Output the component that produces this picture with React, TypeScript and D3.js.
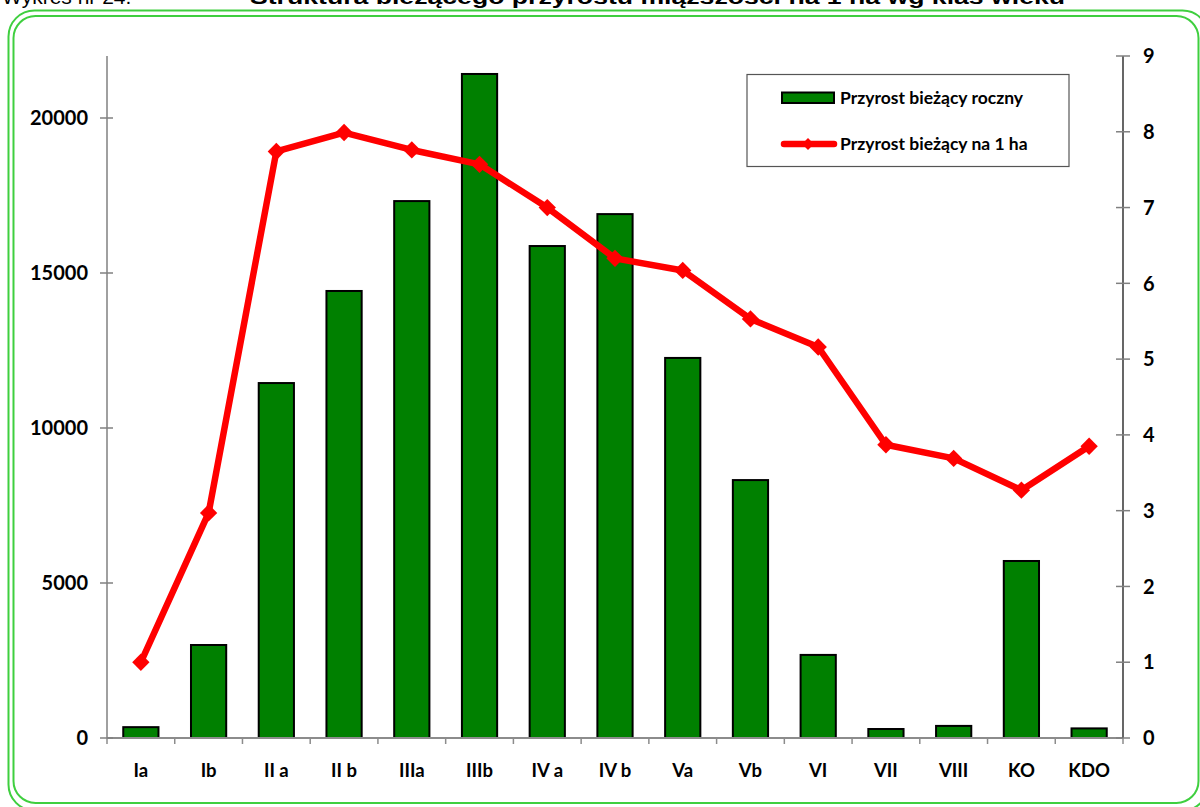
import React from "react";
import * as d3 from "d3";

const categories = ["Ia", "Ib", "II a", "II b", "IIIa", "IIIb", "IV a", "IV b", "Va", "Vb", "VI", "VII", "VIII", "KO", "KDO"];
const annualGrowth = [350, 3000, 11450, 14420, 17320, 21420, 15870, 16900, 12260, 8320, 2680, 290, 390, 5710, 310];
const growthPerHa = [1.0, 2.97, 7.74, 7.99, 7.76, 7.57, 7.0, 6.33, 6.17, 5.53, 5.16, 3.87, 3.69, 3.27, 3.85];
const leftTicks = [0, 5000, 10000, 15000, 20000];
const rightTicks = [0, 1, 2, 3, 4, 5, 6, 7, 8, 9];
const seriesNames = ["Przyrost bieżący roczny", "Przyrost bieżący na 1 ha"];

const W = 1200, H = 807;
const L = 107, R = 1123, T = 56, B = 738;
const font = "Lato, 'Open Sans', Arial, sans-serif";

export default function App() {
  const x = d3.scaleBand<string>().domain(categories).range([L, R]).paddingInner(0.48).paddingOuter(0.24);
  const band = (R - L) / categories.length;
  const yL = d3.scaleLinear().domain([0, 22000]).range([B, T]);
  const yR = d3.scaleLinear().domain([0, 9]).range([B, T]);
  const cx = (c: string) => (x(c) as number) + x.bandwidth() / 2;
  const line = d3.line<number>().x((_, i) => cx(categories[i])).y((d) => yR(d));
  const diamond = d3.symbol().type(d3.symbolSquare).size(150)() as string;
  const green = "#3fcf3f";

  return (
    <svg width={W} height={H} style={{ position: "absolute", left: 0, top: 0, background: "#fff" }}>
      <rect x={0} y={0} width={W} height={H} fill="#fff" />
      <text x={2} y={4} fontFamily="'Liberation Sans', Arial, sans-serif" fontSize={21} fill="#000">Wykres nr 24.</text>
      <text x={250} y={4} fontFamily="'Liberation Sans', Arial, sans-serif" fontSize={21} fontWeight="bold" fill="#000" textLength={815} lengthAdjust="spacingAndGlyphs">Struktura bieżącego przyrostu miąższości na 1 ha wg klas wieku</text>
      <rect x={8.5} y={10.5} width={1200} height={800} rx={26} fill="none" stroke={green} strokeWidth={2} />
      <rect x={13.5} y={16} width={1185} height={787} rx={22} fill="none" stroke={green} strokeWidth={2} />

      {/* bars */}
      {annualGrowth.map((v, i) => (
        <rect key={i} x={x(categories[i])} y={yL(v)} width={x.bandwidth()} height={B - yL(v)} fill="#008000" stroke="#000" strokeWidth={2} />
      ))}

      {/* x axis */}
      <line x1={L} x2={R} y1={B} y2={B} stroke="#8c8c8c" strokeWidth={2} />
      {d3.range(categories.length + 1).map((i) => (
        <line key={i} x1={L + i * band} x2={L + i * band} y1={B} y2={B + 6} stroke="#8c8c8c" strokeWidth={1.5} />
      ))}
      {categories.map((c) => (
        <text key={c} x={cx(c)} y={777} textAnchor="middle" fontFamily={font} fontWeight="bold" fontSize={18.5} fill="#000">{c}</text>
      ))}

      {/* left axis */}
      <line x1={L} x2={L} y1={T} y2={B} stroke="#808080" strokeWidth={1.5} />
      {leftTicks.map((t) => (
        <g key={t}>
          <line x1={L - 7} x2={L + 6} y1={yL(t)} y2={yL(t)} stroke="#808080" strokeWidth={1.5} />
          <text x={88} y={yL(t)} dy="0.36em" textAnchor="end" fontFamily={font} fontWeight="bold" fontSize={20} fill="#000">{t}</text>
        </g>
      ))}

      {/* right axis */}
      <line x1={R} x2={R} y1={T} y2={B} stroke="#000" strokeWidth={1.2} />
      {rightTicks.map((t) => (
        <g key={t}>
          <line x1={R - 7} x2={R + 7} y1={yR(t)} y2={yR(t)} stroke="#808080" strokeWidth={1.5} />
          <text x={1143} y={yR(t)} dy="0.36em" textAnchor="start" fontFamily={font} fontWeight="bold" fontSize={20} fill="#000">{t}</text>
        </g>
      ))}

      {/* line series */}
      <path d={line(growthPerHa) as string} fill="none" stroke="#ff0000" strokeWidth={6.5} strokeLinejoin="round" />
      {growthPerHa.map((v, i) => (
        <path key={i} d={diamond} transform={`translate(${cx(categories[i])},${yR(v)}) rotate(45)`} fill="#ff0000" />
      ))}

      {/* legend */}
      <rect x={747} y={74.5} width={322} height={92} fill="#fff" stroke="#555" strokeWidth={1.2} />
      <rect x={782} y={92.5} width={52} height={10.5} fill="#008000" stroke="#000" strokeWidth={2} />
      <text x={840} y={98} dy="0.35em" fontFamily={font} fontWeight="bold" fontSize={17.5} fill="#000">{seriesNames[0]}</text>
      <line x1={784} x2={834} y1={144} y2={144} stroke="#ff0000" strokeWidth={6.5} strokeLinecap="round" />
      <path d={d3.symbol().type(d3.symbolSquare).size(70)() as string} transform="translate(808,144) rotate(45)" fill="#ff0000" />
      <text x={840} y={144} dy="0.35em" fontFamily={font} fontWeight="bold" fontSize={17.5} fill="#000">{seriesNames[1]}</text>
    </svg>
  );
}
